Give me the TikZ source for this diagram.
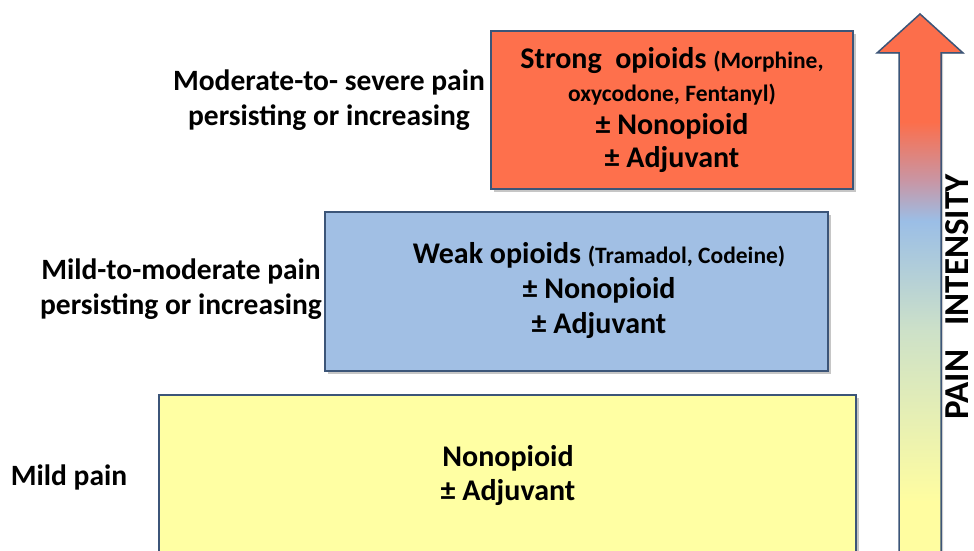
\documentclass[tikz,border=0pt]{standalone}
\usepackage{fontspec}
\setmainfont{Carlito}
\usetikzlibrary{shadows}
\definecolor{py}{RGB}{255,253,160}
\definecolor{pg}{RGB}{205,225,200}
\definecolor{pb}{RGB}{155,190,230}
\definecolor{pp}{RGB}{200,150,165}
\definecolor{po}{RGB}{252,110,75}
\definecolor{redfill}{RGB}{254,112,76}
\definecolor{bluefill}{RGB}{161,191,228}
\definecolor{yellowfill}{RGB}{255,255,163}
\definecolor{edge}{RGB}{60,85,120}
\pgfdeclareverticalshading{painshade}{100bp}{color(0bp)=(py); color(29.7bp)=(py); color(45.6bp)=(pg); color(55.8bp)=(pb); color(59.5bp)=(pp); color(65bp)=(po); color(100bp)=(po)}
\tikzset{
  stepbox/.style={draw=edge, line width=1.5pt, drop shadow={shadow xshift=3pt, shadow yshift=-3pt, opacity=0.45}},
  boxtext/.style={align=center, font=\fontsize{30}{35}\selectfont\bfseries, text=black},
  sidelabel/.style={align=center, font=\fontsize{29.5}{34.5}\selectfont\bfseries, text=black},
}
\newcommand{\smalltxt}[1]{{\fontsize{23.5}{26}\selectfont #1}}
\begin{document}
\begin{tikzpicture}[x=1pt,y=-1pt]
\useasboundingbox (0,0) rectangle (974,551);
% boxes
\path[stepbox, fill=yellowfill] (159,395) rectangle (856,560);
\path[stepbox, fill=bluefill] (325,212) rectangle (828,371);
\path[stepbox, fill=redfill] (491,31) rectangle (853,189);
% box texts
\node[boxtext] (t1) at (508,476) {Nonopioid\\[-1pt]± Adjuvant};
\node[boxtext] (t2) at (599,291) {Weak opioids \smalltxt{(Tramadol,\ Codeine)}\\± Nonopioid\\± Adjuvant};
\node[boxtext, font=\fontsize{30}{33}\selectfont\bfseries] (t3) at (672,110) {Strong\ \ opioids \smalltxt{(Morphine,}\\\smalltxt{oxycodone, Fentanyl)}\\± Nonopioid\\± Adjuvant};
% side labels
\node[sidelabel] (l1) at (69,477) {Mild pain};
\node[sidelabel] (l2) at (181,289) {Mild-to-moderate pain\\persisting or increasing};
\node[sidelabel] (l3) at (329,100) {Moderate-to- severe pain\\persisting or increasing};
% arrow
\path[drop shadow={shadow xshift=2pt, shadow yshift=-1pt, opacity=0.4}, shading=painshade, draw=edge, line width=1.5pt]
  (899,553) -- (899,53) -- (877,53) -- (920,14) -- (963,53) -- (941,53) -- (941,553) -- cycle;
\node[rotate=90, font=\fontsize{35}{40}\selectfont\bfseries, anchor=center, inner sep=0pt] (pi) at (957,297) {PAIN\hspace{24pt}INTENSITY};
\end{tikzpicture}
\end{document}
